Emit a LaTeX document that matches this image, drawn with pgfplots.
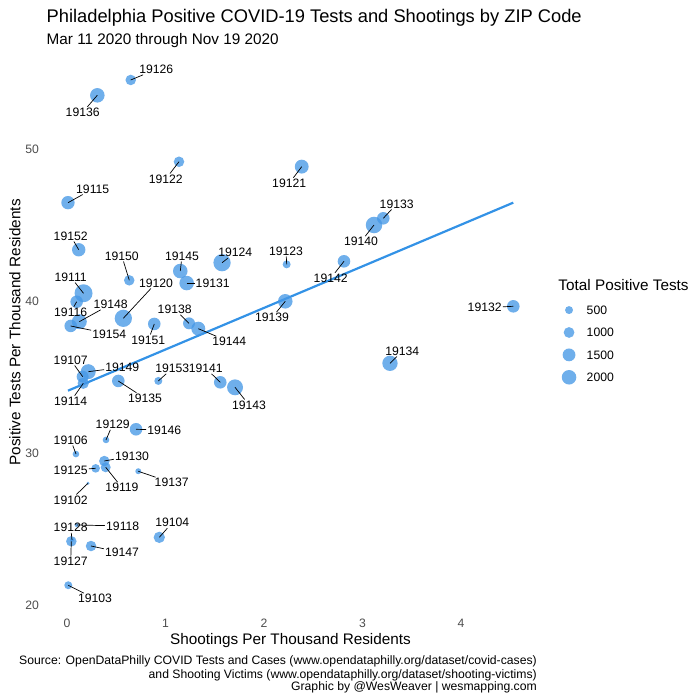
\documentclass[border=0pt]{standalone}
\usepackage{fontspec}
\setmainfont{Liberation Sans}
\usepackage{pgfplots}
\pgfplotsset{compat=1.18}
\usepackage{pgfplotstable}
\definecolor{ptcol}{RGB}{70,152,230}
\definecolor{lncol}{RGB}{51,146,230}
\definecolor{tickgray}{RGB}{77,77,77}
\pgfplotstableread{
zip x y tests
19126 0.647 54.56 950
19136 0.308 53.55 2000
19122 1.137 49.18 950
19121 2.383 48.86 1800
19115 0.010 46.49 1650
19152 0.119 43.39 1650
19150 0.632 41.38 950
19145 1.150 41.99 2000
19131 1.215 41.20 2000
19124 1.574 42.54 2950
19123 2.230 42.43 500
19111 0.168 40.53 3200
19116 0.098 39.97 1430
19148 0.125 38.66 2125
19154 0.038 38.38 1430
19120 0.572 38.88 2950
19138 1.239 38.55 1276
19144 1.333 38.20 1816
19151 0.886 38.51 1430
19139 2.216 40.00 2000
19133 3.211 45.46 1430
19140 3.117 45.02 2670
19142 2.812 42.63 1430
19132 4.531 39.67 1430
19134 3.279 35.92 2250
19141 1.556 34.67 1430
19143 1.706 34.34 2460
19149 0.216 35.37 2125
19107 0.159 35.04 1276
19114 0.165 34.61 1130
19135 0.521 34.76 1430
19153 0.927 34.76 500
19146 0.701 31.58 1430
19129 0.396 30.88 330
19106 0.091 29.95 330
19130 0.379 29.49 950
19125 0.291 29.01 600
19119 0.393 29.08 840
19137 0.724 28.82 265
19102 0.213 28.03 113
19118 0.098 25.28 133
19128 0.051 24.30 133
19127 0.044 24.21 950
19147 0.244 23.90 950
19104 0.937 24.47 1130
19103 0.013 21.32 500
}\zipdata
\newcommand{\fs}[1]{\fontsize{#1bp}{#1bp}\selectfont}
\newcommand{\lab}[5]{\node[lbl] (t) at (#3,#4) {#5}; \draw[seg] (#1,#2) -- (t);}
\begin{document}
\begin{tikzpicture}[lbl/.style={inner sep=1bp, font=\fs{12.2}}, seg/.style={black, line width=0.7bp}]
\begin{axis}[
  x=98.5bp, y=15.2bp,
  xmin=-0.23, xmax=4.77, ymin=19.6, ymax=56.3,
  axis line style={draw=none},
  tick style={draw=none},
  major tick length=0pt,
  xtick={0,1,2,3,4}, ytick={20,30,40,50},
  ticklabel style={font=\fs{12.2}, text=tickgray},
  /pgf/number format/assume math mode=true,
  xticklabel style={yshift=-4bp},
  yticklabel style={xshift=-2bp},
  clip=false,
  legend cell align=left,
  legend style={at={(1.041,0.5602)}, anchor=north west, draw=none, fill=none,
    inner sep=0pt, outer sep=0pt, row sep=0pt, column sep=0pt,
    nodes={inner sep=0pt, text depth=0pt, font=\fs{12.2}}},
  legend image code/.code={\path[draw=none, fill=none] (0bp,-11.2bp) rectangle (29.7bp,11.2bp); \draw[#1] plot coordinates {(12bp,0bp)};},
]
\addplot[scatter, only marks, mark=*, forget plot,
  scatter/use mapped color={draw opacity=0, fill=ptcol},
  visualization depends on={1.2+0.14*sqrt(\thisrow{tests}-100) \as \rad},
  scatter/@pre marker code/.append style={/tikz/mark size=\rad},
  mark options={fill opacity=0.78, draw opacity=0}]
  table[x=x, y=y] {\zipdata};
\addplot[lncol, line width=2.2bp, forget plot] coordinates {(0.010,34.12) (4.531,46.49)};
\addlegendimage{only marks, mark=*, mark size=4.0, draw opacity=0, fill=ptcol, fill opacity=0.78}
\addlegendentry{500}
\addlegendimage{only marks, mark=*, mark size=5.4, draw opacity=0, fill=ptcol, fill opacity=0.78}
\addlegendentry{1000}
\addlegendimage{only marks, mark=*, mark size=6.44, draw opacity=0, fill=ptcol, fill opacity=0.78}
\addlegendentry{1500}
\addlegendimage{only marks, mark=*, mark size=7.3, draw opacity=0, fill=ptcol, fill opacity=0.78}
\addlegendentry{2000}
\coordinate (O) at (axis cs:-0.680203,59.8224);
\end{axis}
\begin{scope}[shift={(O)}, x=1bp, y=-1bp]
\lab{130.7}{80}{156.3}{69.3}{19126}
\lab{97.3}{95.3}{82.7}{112.3}{19136}
\lab{179}{161.7}{165.8}{179}{19122}
\lab{301.7}{166.7}{289.2}{183.3}{19121}
\lab{68}{202.7}{92.7}{189}{19115}
\lab{78.7}{249.7}{70.7}{236}{19152}
\lab{129.3}{280.3}{121.8}{256}{19150}
\lab{180.3}{271}{182}{256}{19145}
\lab{222}{262.7}{235.3}{252.7}{19124}
\lab{286.7}{264.3}{286}{251}{19123}
\lab{186.7}{283}{212.7}{283}{19131}
\lab{123.3}{318.3}{156}{283}{19120}
\lab{83.5}{293.3}{70.7}{277}{19111}
\lab{76.7}{301.7}{70.7}{312.3}{19116}
\lab{79.3}{321.7}{110.7}{304.3}{19148}
\lab{70.7}{326}{109.3}{334}{19154}
\lab{189}{323.3}{174.7}{309.3}{19138}
\lab{198.3}{328.7}{229.3}{341.7}{19144}
\lab{154.3}{324}{148.3}{340}{19151}
\lab{285.3}{301.3}{272}{317.7}{19139}
\lab{383.3}{218.3}{396.7}{204}{19133}
\lab{374}{225}{361}{241.7}{19140}
\lab{344}{261.3}{330.7}{278.3}{19142}
\lab{513.3}{306.3}{484.7}{307.7}{19132}
\lab{390}{363.3}{402.3}{351}{19134}
\lab{158.3}{381}{172.3}{368.3}{19153}
\lab{220.3}{382.3}{205.8}{368.3}{19141}
\lab{235}{387.3}{249}{405}{19143}
\lab{88.3}{371.7}{122.3}{367.3}{19149}
\lab{82.7}{376.7}{70.7}{360}{19107}
\lab{83.3}{383.3}{70.7}{401.3}{19114}
\lab{118.3}{381}{145}{398.3}{19135}
\lab{136}{429.3}{164.3}{430}{19146}
\lab{106}{440}{112.7}{424.3}{19129}
\lab{76}{454}{70.7}{440}{19106}
\lab{104.3}{461}{132}{456}{19130}
\lab{95.7}{468.3}{70.7}{470.3}{19125}
\lab{105.7}{467.3}{122}{487.7}{19119}
\lab{138.3}{471.3}{171.7}{482.7}{19137}
\lab{88}{483.3}{70.7}{500}{19102}
\lab{76.7}{525}{122.7}{526}{19118}
\lab{72}{540}{70.7}{527.3}{19128}
\lab{71.3}{541.3}{70.7}{561.7}{19127}
\lab{91}{546}{122}{552.7}{19147}
\lab{159.3}{537.3}{172.3}{522.7}{19104}
\lab{68.3}{585.3}{95}{598.7}{19103}
% titles
\node[anchor=west, inner sep=0pt, font=\fs{18.3}] at (46.5,17.3) {Philadelphia Positive COVID-19 Tests and Shootings by ZIP Code};
\node[anchor=west, inner sep=0pt, font=\fs{15.3}] at (46.5,40.4) {Mar 11 2020 through Nov 19 2020};
\node[inner sep=0pt, font=\fs{15.3}] at (290.5,640.5) {Shootings Per Thousand Residents};
\node[inner sep=0pt, font=\fs{15.3}, rotate=90] at (15,332.4) {Positive Tests Per Thousand Residents};
\node[anchor=west, inner sep=0pt, font=\fs{15.3}] at (558.3,285) {Total Positive Tests};
\node[anchor=east, inner sep=0pt, font=\fs{12.2}] at (537,661.7) {Source: OpenDataPhilly COVID Tests and Cases (www.opendataphilly.org/dataset/covid-cases)};
\node[anchor=east, inner sep=0pt, font=\fs{12.2}] at (537,675) {and Shooting Victims (www.opendataphilly.org/dataset/shooting-victims)};
\node[anchor=east, inner sep=0pt, font=\fs{12.2}] at (537,687.7) {Graphic by @WesWeaver | wesmapping.com};
\end{scope}
\pgfresetboundingbox
\path[use as bounding box] (O) rectangle ++(700bp,-700bp);
\end{tikzpicture}
\end{document}
